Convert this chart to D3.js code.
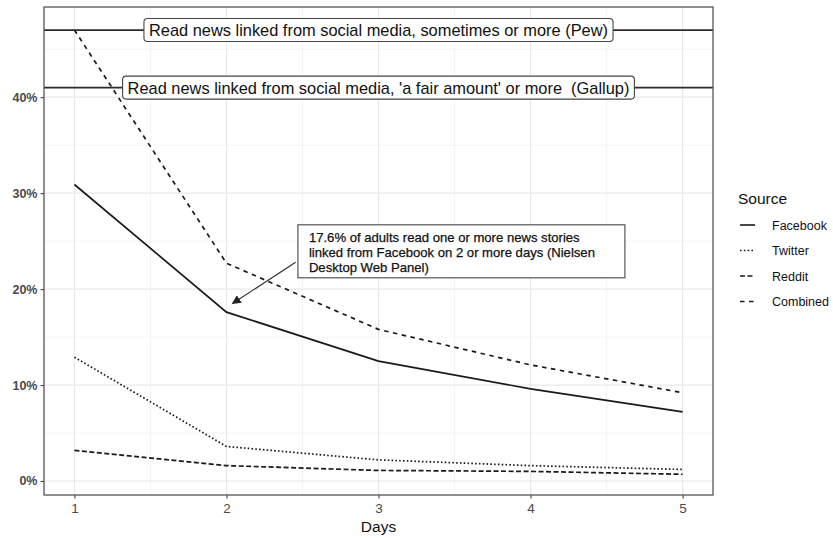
<!DOCTYPE html>
<html>
<head>
<meta charset="utf-8">
<script src="https://cdn.jsdelivr.net/npm/d3@7"></script>
<style>
  body { margin: 0; background: #fff; }
  text { font-family: "Liberation Sans", Arial, sans-serif; white-space: pre; }
</style>
</head>
<body>
<div id="chart"></div>
<script>
const days = [1, 2, 3, 4, 5]
const facebook = [30.9, 17.6, 12.5, 9.6, 7.2]
const twitter = [12.9, 3.6, 2.2, 1.6, 1.2]
const reddit = [3.2, 1.6, 1.1, 1.0, 0.7]
const combined = [47.0, 22.7, 15.8, 12.1, 9.2]
const seriesNames = ["Facebook", "Twitter", "Reddit", "Combined"]
const refValues = [47, 41]
const refLabels = ["Read news linked from social media, sometimes or more (Pew)",
                   "Read news linked from social media, 'a fair amount' or more  (Gallup)"]
const yTicks = [0, 10, 20, 30, 40]
const xTicks = [1, 2, 3, 4, 5]
const noteLines = ["17.6% of adults read one or more news stories",
                   "linked from Facebook on 2 or more days (Nielsen",
                   "Desktop Web Panel)"]

const width = 833, height = 538
const panel = {left: 44, right: 713, top: 7, bottom: 495}
const dashes = {Facebook: null, Twitter: "1.6,2.2", Reddit: "5,2.5", Combined: "4.5,4.5"}
const values = {Facebook: facebook, Twitter: twitter, Reddit: reddit, Combined: combined}

const x = d3.scaleLinear().domain([0.8, 5.2]).range([panel.left, panel.right])
const y = d3.scaleLinear().domain([-1.46, 49.4]).range([panel.bottom, panel.top])

const svg = d3.select("#chart").append("svg")
  .attr("width", width).attr("height", height)

svg.append("rect").attr("width", width).attr("height", height).attr("fill", "#fff")

// grid
const grid = svg.append("g")
const minorX = [1.5, 2.5, 3.5, 4.5]
const minorY = [5, 15, 25, 35, 45]
grid.selectAll(".mx").data(minorX).enter().append("line")
  .attr("x1", d => x(d)).attr("x2", d => x(d)).attr("y1", panel.top).attr("y2", panel.bottom)
  .attr("stroke", "#f1f1f1").attr("stroke-width", 0.8)
grid.selectAll(".my").data(minorY).enter().append("line")
  .attr("y1", d => y(d)).attr("y2", d => y(d)).attr("x1", panel.left).attr("x2", panel.right)
  .attr("stroke", "#f1f1f1").attr("stroke-width", 0.8)
grid.selectAll(".gx").data(xTicks).enter().append("line")
  .attr("x1", d => x(d)).attr("x2", d => x(d)).attr("y1", panel.top).attr("y2", panel.bottom)
  .attr("stroke", "#e8e8e8").attr("stroke-width", 1.2)
grid.selectAll(".gy").data(yTicks).enter().append("line")
  .attr("y1", d => y(d)).attr("y2", d => y(d)).attr("x1", panel.left).attr("x2", panel.right)
  .attr("stroke", "#e8e8e8").attr("stroke-width", 1.2)

// data lines
const line = d3.line().x((d, i) => x(days[i])).y(d => y(d))
seriesNames.forEach(name => {
  svg.append("path")
    .attr("d", line(values[name]))
    .attr("fill", "none")
    .attr("stroke", "#1a1a1a")
    .attr("stroke-width", 1.7)
    .attr("stroke-dasharray", dashes[name])
})

// reference lines with labels
refValues.forEach((v, i) => {
  svg.append("line")
    .attr("x1", panel.left).attr("x2", panel.right)
    .attr("y1", y(v)).attr("y2", y(v))
    .attr("stroke", "#2b2b2b").attr("stroke-width", 1.7)
  const g = svg.append("g")
  const t = g.append("text")
    .attr("x", x(3)).attr("y", y(v) + 6)
    .attr("text-anchor", "middle")
    .attr("font-size", 16.4)
    .attr("fill", "#111")
    .text(refLabels[i])
  const bb = t.node().getBBox()
  g.insert("rect", "text")
    .attr("x", bb.x - 5).attr("y", y(v) - 11.5)
    .attr("width", bb.width + 10).attr("height", 23)
    .attr("rx", 3.5)
    .attr("fill", "#fff").attr("stroke", "#444").attr("stroke-width", 1.1)
})

// annotation
const noteX = 2.47, noteTop = 26.7
const note = svg.append("g")
note.append("rect")
  .attr("x", x(noteX)).attr("y", y(noteTop))
  .attr("width", 327).attr("height", 53)
  .attr("fill", "#fff").attr("stroke", "#555").attr("stroke-width", 1.2)
note.selectAll("text").data(noteLines).enter().append("text")
  .attr("x", x(noteX) + 11).attr("y", (d, i) => y(noteTop) + 17 + i * 15)
  .attr("font-size", 13.1)
  .attr("fill", "#111")
  .attr("stroke", "#111").attr("stroke-width", 0.25)
  .text(d => d)

svg.append("defs").append("marker")
  .attr("id", "arrow").attr("viewBox", "0 0 10 10")
  .attr("refX", 9).attr("refY", 5)
  .attr("markerWidth", 9).attr("markerHeight", 9)
  .attr("markerUnits", "userSpaceOnUse")
  .attr("orient", "auto")
  .append("path").attr("d", "M0,0 L10,5 L0,10 Z").attr("fill", "#222")

svg.append("line")
  .attr("x1", x(2.455)).attr("y1", y(22.8))
  .attr("x2", x(2.04)).attr("y2", y(18.5))
  .attr("stroke", "#333").attr("stroke-width", 1.2)
  .attr("marker-end", "url(#arrow)")

// panel border
svg.append("rect")
  .attr("x", panel.left).attr("y", panel.top)
  .attr("width", panel.right - panel.left).attr("height", panel.bottom - panel.top)
  .attr("fill", "none").attr("stroke", "#555").attr("stroke-width", 1.3)

// axes
const xAxis = svg.append("g")
  .attr("transform", `translate(0, ${panel.bottom})`)
  .call(d3.axisBottom(x).tickValues(xTicks).tickSize(3.5).tickPadding(5).tickFormat(d3.format("d")))
const yAxis = svg.append("g")
  .attr("transform", `translate(${panel.left}, 0)`)
  .call(d3.axisLeft(y).tickValues(yTicks).tickSize(3.5).tickPadding(3).tickFormat(d => d + "%"))
;[xAxis, yAxis].forEach(a => {
  a.select(".domain").remove()
  a.selectAll(".tick line").attr("stroke", "#444").attr("stroke-width", 1.1)
  a.selectAll(".tick text").attr("fill", "#4a4a4a").attr("font-size", 13.5)
    .attr("font-family", "Liberation Sans, Arial, sans-serif")
})
yAxis.selectAll(".tick text").attr("font-weight", "bold").attr("font-size", 12.5)

svg.append("text")
  .attr("x", (panel.left + panel.right) / 2).attr("y", 532)
  .attr("text-anchor", "middle").attr("font-size", 15.5).attr("fill", "#111")
  .text("Days")

// legend
const legend = svg.append("g").attr("transform", "translate(738, 0)")
legend.append("text").attr("x", 0).attr("y", 204)
  .attr("font-size", 15.5).attr("fill", "#111").text("Source")
seriesNames.forEach((name, i) => {
  const cy = 225 + i * 25.5
  legend.append("line")
    .attr("x1", 2).attr("x2", 17).attr("y1", cy).attr("y2", cy)
    .attr("stroke", "#1a1a1a").attr("stroke-width", 1.6)
    .attr("stroke-dasharray", dashes[name])
  legend.append("text").attr("x", 34).attr("y", cy + 4.5)
    .attr("font-size", 12.5).attr("fill", "#111").text(name)
})
</script>
</body>
</html>
